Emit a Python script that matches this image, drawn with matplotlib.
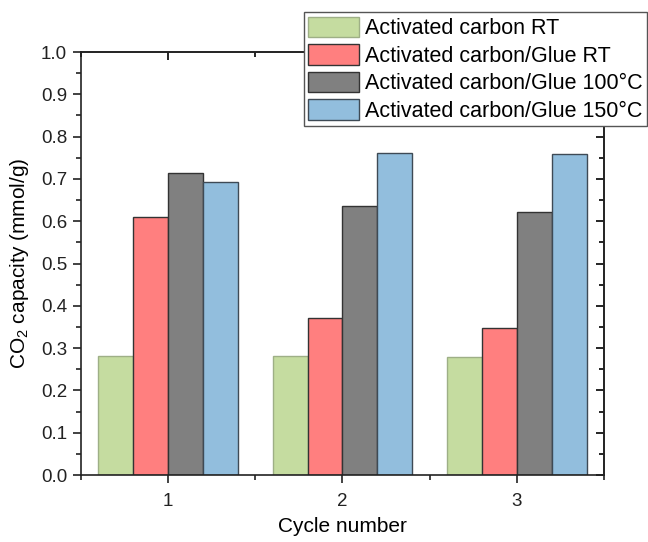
import numpy as np
import matplotlib.pyplot as plt
from matplotlib.ticker import MultipleLocator

plt.rcParams['font.family'] = ['Liberation Sans', 'DejaVu Sans']
plt.rcParams['mathtext.default'] = 'regular'

cycles = [1, 2, 3]
series = ['Activated carbon RT', 'Activated carbon/Glue RT',
          'Activated carbon/Glue 100\u00b0C', 'Activated carbon/Glue 150\u00b0C']
ac_rt = [0.281, 0.282, 0.280]
glue_rt = [0.610, 0.372, 0.348]
glue_100 = [0.713, 0.635, 0.621]
glue_150 = [0.693, 0.761, 0.760]

colors = ['#C5DCA0', '#FF7F7F', '#808080', '#92BEDD']
edges = ['#9EAF86', '#333333', '#333333', '#3E4A55']

fig = plt.figure(figsize=(6.48, 5.42), dpi=100)
ax = fig.add_axes([0.125, 0.1236, 0.807, 0.7804])

x = np.array(cycles, dtype=float)
width = 0.2
for i, vals in enumerate([ac_rt, glue_rt, glue_100, glue_150]):
    ax.bar(x + (i - 1.5) * width, vals, width, color=colors[i],
           edgecolor=edges[i], linewidth=1.0, label=series[i], zorder=2)

ax.set_xlim(0.5, 3.5)
ax.set_ylim(0, 1.0)
ax.set_xticks(cycles)
ax.xaxis.set_minor_locator(MultipleLocator(0.5))
ax.yaxis.set_major_locator(MultipleLocator(0.1))
ax.yaxis.set_minor_locator(MultipleLocator(0.05))
ax.yaxis.set_major_formatter(plt.FormatStrFormatter('%.1f'))

for s in ax.spines.values():
    s.set_linewidth(1.2)
    s.set_color('#222222')

ax.tick_params(axis='both', which='major', length=6, width=1.2,
               labelsize=13.5, colors='#222222', pad=4)
ax.tick_params(axis='both', which='minor', length=3.5, width=1.2,
               colors='#222222')
ax.tick_params(axis='both', which='both', direction='out')
ax.tick_params(axis='x', which='major', pad=7)

# inward ticks on top and right spines
ax2 = ax.secondary_xaxis('top')
ax2.set_xticks(cycles)
ax2.xaxis.set_minor_locator(MultipleLocator(0.5))
ax2.tick_params(which='major', direction='in', length=6, width=1.2, labeltop=False)
ax2.tick_params(which='minor', direction='in', length=3.5, width=1.2)
ax2.set_xticklabels([])
ay2 = ax.secondary_yaxis('right')
ay2.yaxis.set_major_locator(MultipleLocator(0.1))
ay2.yaxis.set_minor_locator(MultipleLocator(0.05))
ay2.tick_params(which='major', direction='in', length=6, width=1.2)
ay2.tick_params(which='minor', direction='in', length=3.5, width=1.2)
ay2.set_yticklabels([])
for a in (ax2, ay2):
    for s in a.spines.values():
        s.set_linewidth(1.2)
        s.set_color('#222222')

ax.set_xlabel('Cycle number', fontsize=15, labelpad=5)
ax.set_ylabel('CO$_2$ capacity (mmol/g)', fontsize=15, labelpad=7)

leg = fig.legend(loc='upper right', bbox_to_anchor=(0.9985, 0.977),
                 fontsize=15.5, fancybox=False, framealpha=1,
                 edgecolor='#555555', borderpad=0.2, labelspacing=0.22,
                 handlelength=2.35, handleheight=1.1, handletextpad=0.3,
                 borderaxespad=0)
leg.get_frame().set_linewidth(1.0)
leg.set_zorder(5)

fig.savefig('out.png', dpi=100)
